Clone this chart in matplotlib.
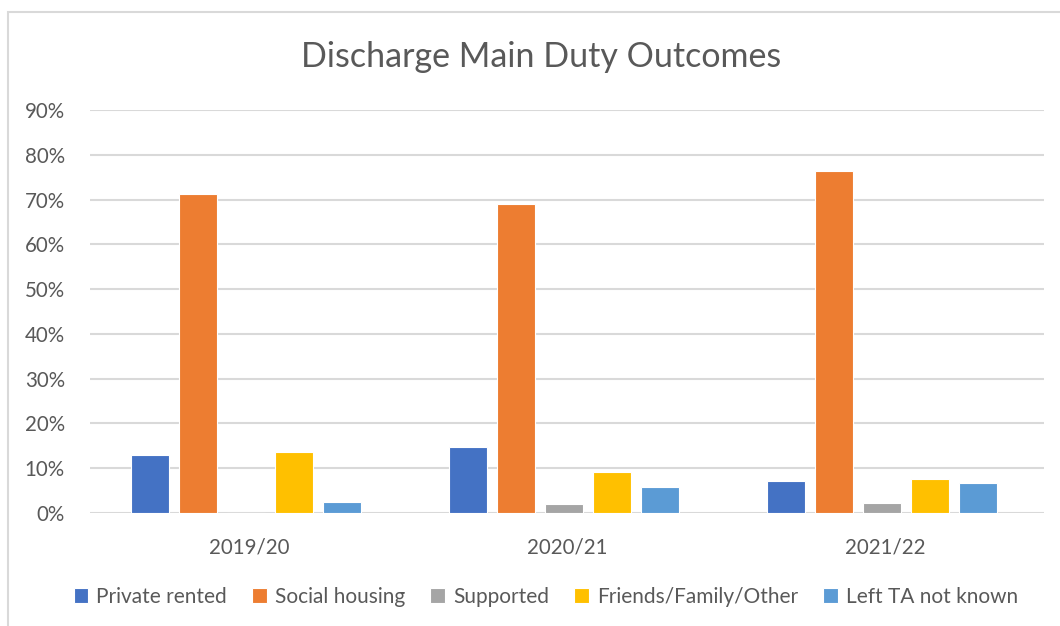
import numpy as np
import matplotlib
matplotlib.use('Agg')
import matplotlib.pyplot as plt
from matplotlib.patches import Rectangle

years = ['2019/20', '2020/21', '2021/22']
series = ['Private rented', 'Social housing', 'Supported', 'Friends/Family/Other', 'Left TA not known']
private_rented = [13.0, 14.8, 7.1]
social_housing = [71.3, 69.1, 76.3]
supported = [0.0, 1.9, 2.2]
friends_family = [13.7, 9.1, 7.6]
left_ta = [2.4, 5.8, 6.6]
colors = ['#4472C4', '#ED7D31', '#A5A5A5', '#FFC000', '#5B9BD5']

values = [private_rented, social_housing, supported, friends_family, left_ta]

plt.rcParams['font.family'] = ['Lato', 'DejaVu Sans']
text_col = '#595959'

fig = plt.figure(figsize=(10.6, 6.26), dpi=100)
# chart frame
fig.patches.append(Rectangle((8 / 1060, -0.1), 1.2, 1 - 12 / 626 + 0.1,
                             transform=fig.transFigure, fill=False,
                             edgecolor='#d9d9d9', linewidth=1.5))

ax = fig.add_axes([90 / 1060, 1 - 513 / 626, (1044 - 90) / 1060, (513 - 110) / 626])
x = np.arange(len(years))
w = 0.12
step = 0.151
for i, (name, vals) in enumerate(zip(series, values)):
    ax.bar(x + (i - 2) * step - 0.01, vals, width=w, color=colors[i], label=name,
           edgecolor='white', linewidth=0.8, zorder=3)

ax.set_xlim(-0.5, 2.5)
ax.set_ylim(0, 90)
ax.set_yticks(range(0, 91, 10))
ax.set_yticklabels([f'{v}%' for v in range(0, 91, 10)])
ax.set_xticks(x)
ax.set_xticklabels(years)
ax.grid(axis='y', color='#d9d9d9', linewidth=1.5, zorder=0)
for s in ax.spines.values():
    s.set_visible(False)
ax.tick_params(axis='both', length=0, colors=text_col, labelsize=14.8)
ax.tick_params(axis='y', pad=18)
ax.tick_params(axis='x', pad=18)

fig.text(541 / 1060, 1 - 57 / 626, 'Discharge Main Duty Outcomes',
         ha='center', va='center', fontsize=24.5, color=text_col)

leg = fig.legend(loc='center', bbox_to_anchor=(546 / 1060, 1 - 597 / 626), ncol=5,
                 frameon=False, fontsize=15, handlelength=0.7, handleheight=0.7,
                 handletextpad=0.4, columnspacing=1.2)
for t in leg.get_texts():
    t.set_color(text_col)

fig.savefig('out.png', dpi=100)
